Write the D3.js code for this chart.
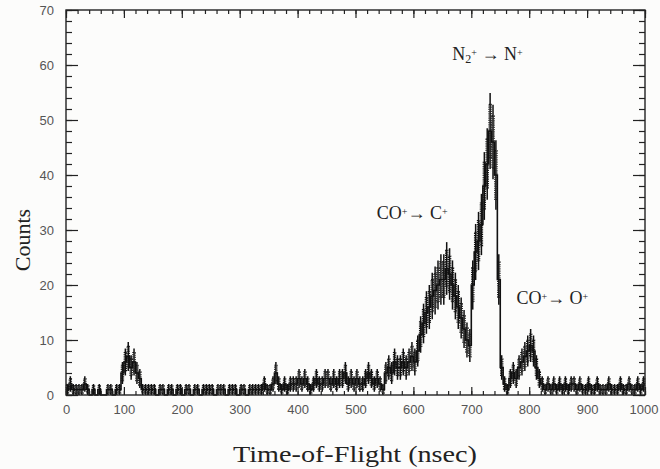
<!DOCTYPE html>
<html>
<head>
<meta charset="utf-8">
<script src="https://cdn.jsdelivr.net/npm/d3@7"></script>
<style>
  body { margin: 0; background: #fcfcfb; }
  svg { display: block; }
</style>
</head>
<body>
<div id="chart"></div>
<script>
// bin width in nsec, counts per bin starting at 0 ns
const binWidth = 5;
const counts = [
  1, 2, 1, 1, 1, 1, 2, 1, 0, 1,
  0, 1, 0, 0, 1, 1, 0, 1, 1, 4,
  6, 7, 5, 6, 4, 3, 1, 1, 1, 1,
  1, 0, 1, 1, 0, 1, 1, 0, 1, 1,
  0, 1, 1, 0, 1, 1, 0, 1, 1, 1,
  1, 0, 1, 1, 1, 0, 1, 1, 1, 0,
  1, 1, 0, 1, 1, 1, 1, 1, 2, 1,
  1, 2, 4, 2, 1, 2, 1, 2, 2, 2,
  3, 2, 3, 2, 1, 2, 3, 2, 2, 3,
  3, 2, 3, 2, 3, 3, 4, 2, 3, 2,
  3, 2, 2, 3, 4, 3, 2, 3, 2, 1,
  4, 5, 4, 6, 5, 5, 6, 5, 6, 7,
  6, 8, 11, 13, 15, 16, 18, 19, 20, 21,
  21, 23, 22, 20, 18, 16, 14, 12, 10, 9,
  20, 26, 28, 31, 38, 42, 48, 46, 40, 21,
  5, 2, 1, 3, 4, 3, 5, 6, 7, 8,
  9, 8, 5, 3, 2, 1, 2, 1, 2, 1,
  2, 1, 2, 1, 2, 2, 1, 2, 1, 1,
  2, 1, 1, 2, 1, 1, 1, 2, 1, 1,
  1, 2, 1, 1, 2, 1, 1, 2, 1, 2
];
const xTicks = [0, 100, 200, 300, 400, 500, 600, 700, 800, 900, 1000];
const xMinorTicks = d3.range(0, 1001, 20);
const yTicks = [0, 10, 20, 30, 40, 50, 60, 70];
const yMinorTicks = d3.range(0, 71, 2);
const labels = [
  { x: 728, y: 61, parts: [['N', ''], ['2', 'sub'], ['+', 'sup'], [' \u2192 N', ''], ['+', 'sup']] },
  { x: 598, y: 32, parts: [['CO', ''], ['+', 'sup'], ['\u2192 C', ''], ['+', 'sup']] },
  { x: 840, y: 16.5, parts: [['CO', ''], ['+', 'sup'], ['\u2192 O', ''], ['+', 'sup']] }
];

const width = 660, height = 469;
const margin = { left: 66, right: 15, top: 10, bottom: 74 };

const svg = d3.select('#chart').append('svg')
  .attr('width', width)
  .attr('height', height);

const x = d3.scaleLinear().domain([0, 1000]).range([margin.left, width - margin.right]);
const y = d3.scaleLinear().domain([0, 70]).range([height - margin.bottom, margin.top]);

const data = counts.map((c, i) => ({ t: i * binWidth, c: c }));
const err = d => Math.sqrt(d.c);

// histogram steps
const line = d3.line()
  .curve(d3.curveStepAfter)
  .x(d => x(d.t))
  .y(d => y(d.c));

svg.append('path')
  .datum(data.concat([{ t: 1000, c: counts[counts.length - 1] }]))
  .attr('d', line)
  .attr('fill', 'none')
  .attr('stroke', '#111')
  .attr('stroke-width', 1.6);

// error bars (sqrt n)
const eb = svg.append('g').attr('stroke', '#111');
eb.selectAll('line')
  .data(data.filter(d => d.c > 0))
  .join('line')
  .attr('x1', d => x(d.t + binWidth / 2))
  .attr('x2', d => x(d.t + binWidth / 2))
  .attr('y1', d => y(Math.max(0, d.c - err(d))))
  .attr('y2', d => y(d.c + err(d)))
  .attr('stroke-width', 1.5);

// ladder hatching on the error boxes
eb.selectAll('rect')
  .data(data.filter(d => d.c > 0))
  .join('rect')
  .attr('x', d => x(d.t) + 0.3)
  .attr('width', d => x(d.t + binWidth) - x(d.t) - 0.6)
  .attr('y', d => y(d.c + err(d) * 0.7))
  .attr('height', d => y(Math.max(0, d.c - err(d) * 0.7)) - y(d.c + err(d) * 0.7))
  .attr('fill', 'none')
  .attr('stroke-width', 1.1)
  .attr('stroke-dasharray', '1.2,1');

// axes, ticks pointing inward
const axisStyle = g => {
  g.select('.domain').remove();
  g.selectAll('line').attr('stroke', '#222').attr('stroke-width', 1.2);
  g.selectAll('text')
    .attr('fill', '#555')
    .style('font-family', '"Liberation Sans", Arial, sans-serif')
    .style('font-size', '13px');
};

svg.append('g')
  .attr('transform', 'translate(0,' + y(0) + ')')
  .call(d3.axisBottom(x).tickValues(xMinorTicks).tickSize(-4).tickFormat(''))
  .call(axisStyle);
const xAxis = svg.append('g')
  .attr('transform', 'translate(0,' + y(0) + ')')
  .call(d3.axisBottom(x).tickValues(xTicks).tickSize(-8).tickPadding(10).tickFormat(d3.format('d')))
  .call(axisStyle);
xAxis.selectAll('text').filter(d => d === 1000).attr('text-anchor', 'end').attr('dx', 13);
svg.append('g')
  .attr('transform', 'translate(0,' + y(70) + ')')
  .call(d3.axisTop(x).tickValues(xMinorTicks).tickSize(-4).tickFormat(''))
  .call(axisStyle);
svg.append('g')
  .attr('transform', 'translate(0,' + y(70) + ')')
  .call(d3.axisTop(x).tickValues(xTicks).tickSize(-8).tickFormat(''))
  .call(axisStyle);

svg.append('g')
  .attr('transform', 'translate(' + x(0) + ',0)')
  .call(d3.axisLeft(y).tickValues(yMinorTicks).tickSize(-6).tickFormat(''))
  .call(axisStyle);
svg.append('g')
  .attr('transform', 'translate(' + x(0) + ',0)')
  .call(d3.axisLeft(y).tickValues(yTicks).tickSize(-12).tickPadding(12))
  .call(axisStyle);
svg.append('g')
  .attr('transform', 'translate(' + x(1000) + ',0)')
  .call(d3.axisRight(y).tickValues(yMinorTicks).tickSize(-6).tickFormat(''))
  .call(axisStyle);
svg.append('g')
  .attr('transform', 'translate(' + x(1000) + ',0)')
  .call(d3.axisRight(y).tickValues(yTicks).tickSize(-12).tickFormat(''))
  .call(axisStyle);

// frame
svg.append('rect')
  .attr('x', x(0))
  .attr('y', y(70))
  .attr('width', x(1000) - x(0))
  .attr('height', y(0) - y(70))
  .attr('fill', 'none')
  .attr('stroke', '#222')
  .attr('stroke-width', 1.4);

// axis titles
svg.append('text')
  .attr('x', 355)
  .attr('y', 462)
  .attr('text-anchor', 'middle')
  .attr('textLength', 244)
  .attr('lengthAdjust', 'spacingAndGlyphs')
  .style('font-family', '"Liberation Serif", "DejaVu Serif", serif')
  .style('font-size', '24px')
  .attr('fill', '#222')
  .text('Time-of-Flight (nsec)');

svg.append('text')
  .attr('transform', 'translate(30,240) rotate(-90)')
  .attr('text-anchor', 'middle')
  .style('font-family', '"Liberation Serif", "DejaVu Serif", serif')
  .style('font-size', '22px')
  .attr('fill', '#222')
  .text('Counts');

// peak annotations
labels.forEach(l => {
  const t = svg.append('text')
    .attr('x', x(l.x))
    .attr('y', y(l.y))
    .attr('text-anchor', 'middle')
    .style('font-family', '"Liberation Serif", "DejaVu Serif", serif')
    .style('font-size', '18px')
    .attr('fill', '#222');
  l.parts.forEach(p => {
    const s = t.append('tspan').text(p[0]);
    if (p[1] === 'sub') s.attr('baseline-shift', '-25%').style('font-size', '12px');
    if (p[1] === 'sup') s.attr('baseline-shift', '45%').style('font-size', '10px');
  });
});
</script>
</body>
</html>
